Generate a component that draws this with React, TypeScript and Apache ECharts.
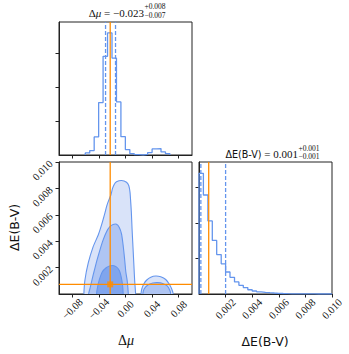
import React, { useEffect, useRef } from "react";
import * as echarts from "echarts";

// ---- 1D histogram of Δμ ----
const muEdges = [-0.0605, -0.0538, -0.0471, -0.0404, -0.0337, -0.027, -0.0203, -0.0136, -0.0069, -0.0002, 0.0065, 0.0132, 0.0199, 0.0266, 0.0333, 0.04, 0.0467, 0.0534, 0.0601, 0.0668];
const muHist = [0.06, 0.13, 0.53, 1.54, 2.9, 3.59, 2.85, 1.56, 0.54, 0.16, 0.04, 0.01, 0, 0.02, 0.07, 0.18, 0.19, 0.09, 0.04];
const muQuantiles = [-0.030, -0.015];
const muTruth = -0.023;

// ---- 1D histogram of ΔE(B-V) ----
const ebvEdges = [0, 0.00033, 0.00067, 0.001, 0.00133, 0.00167, 0.002, 0.00233, 0.00267, 0.003, 0.00333, 0.00367, 0.004, 0.00433, 0.00467, 0.005, 0.00533, 0.00567, 0.006, 0.00633, 0.00667, 0.007, 0.00733, 0.00767, 0.008, 0.00833, 0.00867, 0.009, 0.00933, 0.00967, 0.01];
const ebvHist = [3.4, 2.79, 2.06, 1.51, 1.11, 0.85, 0.62, 0.47, 0.34, 0.245, 0.18, 0.12, 0.085, 0.06, 0.048, 0.037, 0.028, 0.02, 0.014, 0.009, 0.006, 0.004, 0.003, 0.002, 0.001, 0.001, 0, 0, 0, 0];
const ebvQuantiles = [0.00014, 0.002];
const ebvTruth = 0.00073;

// ---- axis ranges and ticks ----
const muRange = [-0.1, 0.1];
const ebvRange = [0, 0.01];
const muDensMax = 3.91;
const ebvDensMax = 3.72;
const muTicks = [-0.08, -0.04, 0, 0.04, 0.08];
const ebvTicks = [0.002, 0.004, 0.006, 0.008, 0.01];
const densTicks = [1, 2, 3];

// ---- 2D contours (data units: [Δμ, ΔE(B-V)]) ----
const outerMain = [[-0.0626, 0], [-0.061, 0.00106], [-0.056, 0.00235], [-0.0486, 0.00359], [-0.041, 0.00447], [-0.036, 0.00523], [-0.031, 0.00612], [-0.0285, 0.00662], [-0.026, 0.007], [-0.022, 0.0075], [-0.0195, 0.008], [-0.017, 0.0083], [-0.0135, 0.0085], [-0.006, 0.0086], [0.0015, 0.00847], [0.005, 0.0082], [0.0068, 0.0077], [0.0078, 0.007], [0.0088, 0.0062], [0.0098, 0.005], [0.0108, 0.004], [0.0118, 0.003], [0.0128, 0.002], [0.0138, 0.001], [0.0152, 0]];
const midMain = [[-0.0555, 0], [-0.053, 0.0005], [-0.0486, 0.00144], [-0.0435, 0.00245], [-0.0385, 0.00333], [-0.0336, 0.0041], [-0.0285, 0.00472], [-0.0235, 0.0051], [-0.0186, 0.00527], [-0.0135, 0.00528], [-0.0093, 0.00504], [-0.006, 0.00455], [-0.0036, 0.00371], [-0.0015, 0.00273], [0.0005, 0.00167], [0.0024, 0.00106], [0.0035, 0.0005], [0.0042, 0]];
const innerMain = [[-0.0435, 0], [-0.042, 0.00053], [-0.039, 0.00114], [-0.035, 0.00167], [-0.0295, 0.00197], [-0.024, 0.00212], [-0.019, 0.00216], [-0.0138, 0.00205], [-0.0093, 0.00178], [-0.0065, 0.0013], [-0.0045, 0.0007], [-0.0035, 0]];
const outerSide = [[0.0234, 0], [0.0245, 0.00038], [0.0275, 0.00076], [0.032, 0.00106], [0.038, 0.00127], [0.0455, 0.00136], [0.053, 0.0013], [0.0605, 0.0011], [0.0657, 0.00076], [0.0695, 0.00038], [0.0717, 0]];
const midSide = [[0.026, 0], [0.028, 0.00038], [0.0335, 0.00068], [0.041, 0.00083], [0.0485, 0.00086], [0.056, 0.0008], [0.0627, 0.00061], [0.0665, 0.0003], [0.068, 0]];

const BLUE = "#6495ed";
const ORANGE = "#ff8c00";
const FILL_OUTER = "#d9e3f9";
const FILL_MID = "#afc5f3";
const FILL_INNER = "#80a5ee";

const contourLayers = [
  { pts: outerMain, fill: FILL_OUTER },
  { pts: outerSide, fill: FILL_OUTER },
  { pts: midMain, fill: FILL_MID },
  { pts: midSide, fill: FILL_MID },
  { pts: innerMain, fill: FILL_INNER },
];

function stepData(edges: number[], h: number[]) {
  const pts: number[][] = [[edges[0], 0]];
  h.forEach((v, i) => pts.push([edges[i], v]));
  pts.push([edges[edges.length - 1], h[h.length - 1]]);
  pts.push([edges[edges.length - 1], 0]);
  return pts;
}

const fmt = (d: number) => (v: number) => (v < 0 ? "\u2212" : "") + Math.abs(v).toFixed(d);

const LABEL_FONT = "Liberation Serif";
const SANS = "DejaVu Sans";

function refLine(axisIdx: number, pts: number[][], color: string, dashed: boolean, z = 4) {
  return {
    type: "line", xAxisIndex: axisIdx, yAxisIndex: axisIdx, data: pts, showSymbol: false, silent: true,
    lineStyle: { color, width: 1.3, type: dashed ? [4, 2] : "solid" }, z,
  };
}

export default function App() {
  const ref = useRef<HTMLDivElement>(null);
  useEffect(() => {
    if (!ref.current) return;
    const chart = echarts.init(ref.current, null, { renderer: "svg" });
    const tick = (vals: number[]) => ({ show: true, customValues: vals, length: 3.5, lineStyle: { color: "#222", width: 1 } });
    const axisLine = { show: true, onZero: false, lineStyle: { color: "#222", width: 1 } };
    const xLabel = (vals: number[], d: number) => ({
      show: true, customValues: vals, rotate: 45, align: "center", verticalAlign: "middle", margin: 15,
      fontFamily: LABEL_FONT, fontSize: 10.5, color: "#111", formatter: fmt(d), showMinLabel: true, showMaxLabel: true,
    });
    const grids = [
      { left: 59, top: 22, width: 133, height: 133 },
      { left: 59, top: 162, width: 133, height: 132 },
      { left: 199, top: 162, width: 133, height: 132 },
    ].map((g) => ({ ...g, show: true, borderColor: "#222", borderWidth: 1, backgroundColor: "transparent", containLabel: false }));

    const series: any[] = [
      {
        type: "custom", xAxisIndex: 1, yAxisIndex: 1, clip: true, silent: true,
        data: contourLayers.map((_, i) => [0, 0, i]),
        encode: { x: 0, y: 1 },
        renderItem: (_params: any, api: any) => {
          const layer = contourLayers[api.value(2)];
          const p = layer.pts;
          const ext = [...p, [p[p.length - 1][0], -0.0008], [p[0][0], -0.0008]];
          const points = ext.map((q) => api.coord(q));
          return {
            type: "polygon",
            shape: { points, smooth: 0.2 },
            style: { fill: layer.fill, stroke: BLUE, lineWidth: 1.1 },
          };
        },
        z: 2,
      },
      // truth lines in the 2D panel
      refLine(1, [[muTruth, ebvRange[0]], [muTruth, ebvRange[1]]], ORANGE, false),
      refLine(1, [[muRange[0], ebvTruth], [muRange[1], ebvTruth]], ORANGE, false),
      {
        type: "scatter", xAxisIndex: 1, yAxisIndex: 1, data: [[muTruth, ebvTruth]],
        symbol: "rect", symbolSize: 6, itemStyle: { color: ORANGE }, silent: true, z: 6,
      },
      // histograms
      {
        type: "line", xAxisIndex: 0, yAxisIndex: 0, step: "end", showSymbol: false, silent: true,
        data: stepData(muEdges, muHist), lineStyle: { color: BLUE, width: 1.3 }, z: 3,
      },
      {
        type: "line", xAxisIndex: 2, yAxisIndex: 2, step: "end", showSymbol: false, silent: true,
        data: stepData(ebvEdges, ebvHist), lineStyle: { color: BLUE, width: 1.3 }, z: 3,
      },
      ...muQuantiles.map((v) => refLine(0, [[v, 0], [v, muDensMax]], BLUE, true)),
      refLine(0, [[muTruth, 0], [muTruth, muDensMax]], ORANGE, false, 5),
      ...ebvQuantiles.map((v) => refLine(2, [[v, 0], [v, ebvDensMax]], BLUE, true)),
      refLine(2, [[ebvTruth, 0], [ebvTruth, ebvDensMax]], ORANGE, false, 5),
    ];

    const option: any = {
      animation: false,
      grid: grids,
      xAxis: [
        { gridIndex: 0, type: "value", min: muRange[0], max: muRange[1], axisLine, axisTick: tick(muTicks), axisLabel: { show: false }, splitLine: { show: false } },
        { gridIndex: 1, type: "value", min: muRange[0], max: muRange[1], axisLine, axisTick: tick(muTicks), axisLabel: xLabel(muTicks, 2), splitLine: { show: false } },
        { gridIndex: 2, type: "value", min: ebvRange[0], max: ebvRange[1], axisLine, axisTick: tick(ebvTicks), axisLabel: xLabel(ebvTicks, 3), splitLine: { show: false } },
      ],
      yAxis: [
        { gridIndex: 0, type: "value", min: 0, max: muDensMax, axisLine, axisTick: tick(densTicks), axisLabel: { show: false }, splitLine: { show: false } },
        {
          gridIndex: 1, type: "value", min: ebvRange[0], max: ebvRange[1], axisLine, axisTick: tick(ebvTicks),
          axisLabel: { show: true, customValues: ebvTicks, rotate: 45, margin: 8, fontFamily: LABEL_FONT, fontSize: 10.5, color: "#111", formatter: fmt(3), showMaxLabel: true },
          splitLine: { show: false },
        },
        { gridIndex: 2, type: "value", min: 0, max: ebvDensMax, axisLine, axisTick: tick(densTicks), axisLabel: { show: false }, splitLine: { show: false } },
      ],
      series,
      graphic: [
        {
          type: "text", x: 144, y: 12.5,
          style: {
            text: "{a|Δ}{i|μ}{a| = −0.023}", align: "right", verticalAlign: "middle",
            rich: {
              a: { fontFamily: LABEL_FONT, fontSize: 11, fill: "#111" },
              i: { fontFamily: LABEL_FONT, fontSize: 11, fontStyle: "italic", fill: "#111" },
            },
          },
        },
        { type: "text", x: 144.5, y: 6.5, style: { text: "+0.008", fontFamily: LABEL_FONT, fontSize: 7.5, fill: "#111", align: "left", verticalAlign: "middle" } },
        { type: "text", x: 144.5, y: 15.5, style: { text: "−0.007", fontFamily: LABEL_FONT, fontSize: 7.5, fill: "#111", align: "left", verticalAlign: "middle" } },
        {
          type: "text", x: 298, y: 154.2,
          style: {
            text: "{s|ΔE(B-V)}{a| = 0.001}", align: "right", verticalAlign: "middle",
            rich: {
              s: { fontFamily: SANS, fontSize: 9.6, fill: "#111" },
              a: { fontFamily: LABEL_FONT, fontSize: 11, fill: "#111" },
            },
          },
        },
        { type: "text", x: 298.5, y: 148.3, style: { text: "+0.001", fontFamily: LABEL_FONT, fontSize: 7.5, fill: "#111", align: "left", verticalAlign: "middle" } },
        { type: "text", x: 298.5, y: 156, style: { text: "−0.001", fontFamily: LABEL_FONT, fontSize: 7.5, fill: "#111", align: "left", verticalAlign: "middle" } },
        {
          type: "text", x: 126, y: 340,
          style: {
            text: "{a|Δ}{i|μ}", align: "center", verticalAlign: "middle",
            rich: {
              a: { fontFamily: LABEL_FONT, fontSize: 14, fill: "#111" },
              i: { fontFamily: LABEL_FONT, fontSize: 14, fontStyle: "italic", fill: "#111" },
            },
          },
        },
        { type: "text", x: 265, y: 341, style: { text: "ΔE(B-V)", fontFamily: SANS, fontSize: 12.5, fill: "#111", align: "center", verticalAlign: "middle" } },
        { type: "text", x: 14, y: 227.5, rotation: Math.PI / 2, style: { text: "ΔE(B-V)", fontFamily: SANS, fontSize: 12.5, fill: "#111", align: "center", verticalAlign: "middle" } },
      ],
    };
    chart.setOption(option);
    return () => chart.dispose();
  }, []);
  return <div ref={ref} style={{ position: "fixed", left: 0, top: 0, width: 349, height: 354, background: "#fff" }} />;
}
